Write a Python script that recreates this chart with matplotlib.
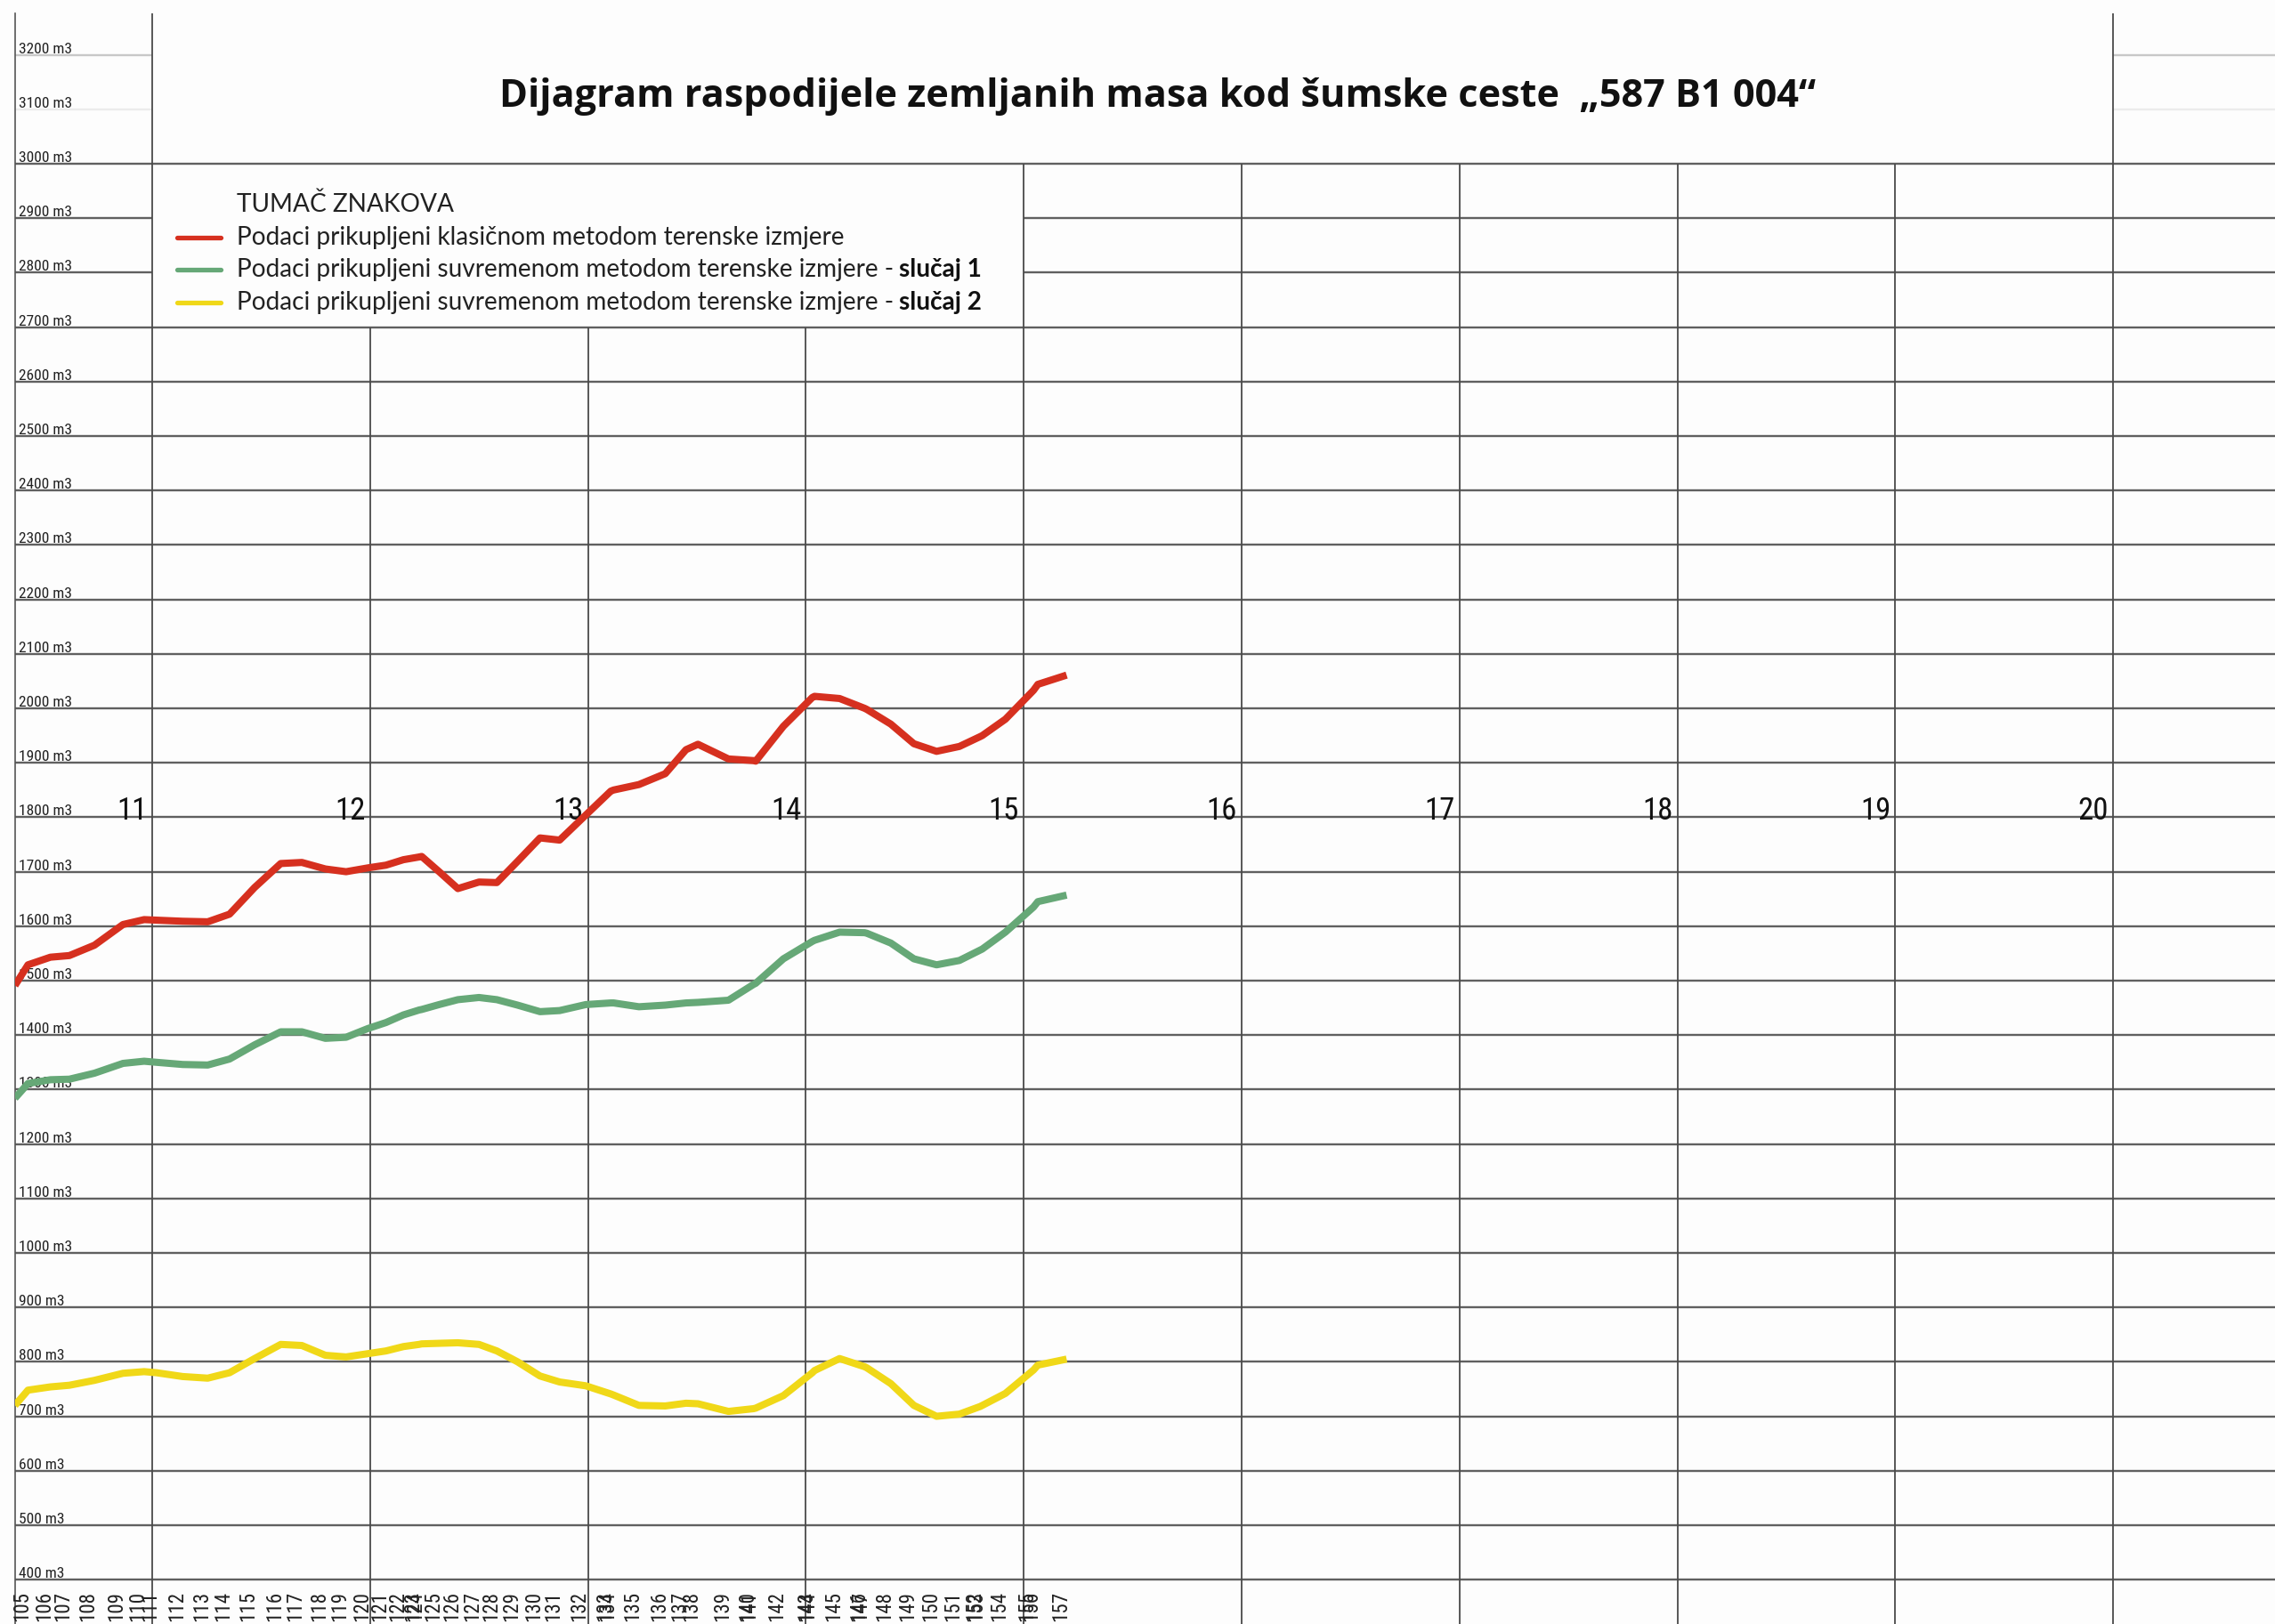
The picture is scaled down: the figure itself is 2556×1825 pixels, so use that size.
import matplotlib.pyplot as plt
from matplotlib import font_manager as fm
from matplotlib.lines import Line2D
from matplotlib.transforms import blended_transform_factory

# poprečni profili (oznake) i njihova stacionaža u km
profili = ["", "105", "106", "107", "108", "109", "110", "111", "112", "113",
           "114", "115", "116", "117", "118", "119", "120", "121", "122", "123",
           "124", "125", "126", "127", "128", "129", "130", "131", "132", "133",
           "134", "135", "136", "137", "138", "139", "140", "141", "142", "143",
           "144", "145", "146", "147", "148", "149", "150", "151", "152", "153",
           "154", "155", "156", "157"]
stacionaza_km = [10.37, 10.43, 10.533, 10.62, 10.735, 10.866, 10.963, 11.02, 11.14, 11.255,
                 11.355, 11.47, 11.59, 11.687, 11.795, 11.89, 11.99, 12.073, 12.153, 12.225,
                 12.237, 12.317, 12.403, 12.5, 12.582, 12.677, 12.78, 12.87, 12.99, 13.105,
                 13.118, 13.234, 13.355, 13.45, 13.505, 13.645, 13.76, 13.77, 13.897, 14.03,
                 14.04, 14.155, 14.27, 14.28, 14.39, 14.496, 14.6, 14.705, 14.8, 14.81,
                 14.916, 15.045, 15.065, 15.197]

# kumulativne mase (m3)
klasicna = [1491, 1529, 1543, 1546, 1565, 1603, 1612, 1611, 1609, 1608,
            1622, 1671, 1715, 1717, 1705, 1700, 1707, 1712, 1722, 1727,
            1728, 1700, 1669, 1681, 1680, 1719, 1762, 1758, 1804, 1848,
            1850, 1860, 1880, 1924, 1934, 1907, 1904, 1903, 1967, 2020,
            2022, 2018, 2000, 1998, 1971, 1935, 1921, 1930, 1948, 1950,
            1980, 2033, 2044, 2061]
suvremena_1 = [1284, 1311, 1318, 1319, 1330, 1348, 1352, 1350, 1346, 1345,
               1356, 1382, 1406, 1406, 1394, 1396, 1412, 1423, 1437, 1446,
               1447, 1456, 1465, 1469, 1465, 1455, 1443, 1445, 1456, 1459,
               1459, 1452, 1455, 1459, 1460, 1464, 1493, 1495, 1540, 1572,
               1574, 1589, 1588, 1587, 1569, 1540, 1529, 1537, 1556, 1558,
               1589, 1635, 1645, 1657]
suvremena_2 = [720, 748, 754, 757, 766, 779, 782, 780, 773, 770,
               780, 806, 832, 830, 812, 809, 815, 820, 828, 832,
               833, 834, 835, 832, 820, 800, 774, 763, 756, 741,
               739, 720, 719, 724, 723, 709, 714, 715, 738, 780,
               784, 806, 791, 789, 760, 720, 700, 704, 718, 720,
               742, 785, 794, 805]

km_oznake = [11, 12, 13, 14, 15, 16, 17, 18, 19, 20]
razine_m3 = list(range(400, 3300, 100))

naslov = "Dijagram raspodijele zemljanih masa kod šumske ceste  „587 B1 004“"
legenda_naslov = "TUMAČ ZNAKOVA"
legenda_tekst = ["Podaci prikupljeni klasičnom metodom terenske izmjere",
                 "Podaci prikupljeni suvremenom metodom terenske izmjere -",
                 "Podaci prikupljeni suvremenom metodom terenske izmjere -"]
legenda_bold = ["", "slučaj 1", "slučaj 2"]

CRVENA = "#d6301f"
ZELENA = "#66a877"
ZUTA = "#f0d818"
MREZA = "#606060"

plt.rcParams["font.family"] = ["Liberation Sans", "DejaVu Sans"]

# uski font za oznake (ako postoji), inače obični Liberation Sans manje veličine
uski = None
for kljuc in ["liberationsansnarrow-regular", "arialn.", "arial narrow",
              "notosans-condensed.", "notosans-condensedregular",
              "robotocondensed-regular", "dejavusanscondensed."]:
    for f in fm.fontManager.ttflist:
        if kljuc in f.fname.lower().replace("_", "-").split("/")[-1] and uski is None:
            uski = f.fname
if uski:
    fp = fm.FontProperties(fname=uski)
    faktor = 1.0
else:
    fp = fm.FontProperties(family="Liberation Sans")
    faktor = 0.82

W, H = 2556, 1825


def fx(px):
    return px / W


def fy(py):
    return 1 - py / H


fig = plt.figure(figsize=(W / 100, H / 100), dpi=100, facecolor="#fdfdfd")
ax = fig.add_axes([fx(17), 0, 1 - fx(17), fy(15)])
ax.set_facecolor("#fdfdfd")
ax.set_xlim(10.371, 20.743)
ax.set_ylim(318.6, 3276.1)
ax.set_xticks([])
ax.set_yticks([])
for s in ["top", "right", "bottom"]:
    ax.spines[s].set_visible(False)
ax.spines["left"].set_color("#555555")
ax.spines["left"].set_linewidth(1.2)

x0, x1 = ax.get_xlim()
y0, y1 = ax.get_ylim()

# vodoravne linije mreže (prekinute ispod naslova i legende)
for lvl in razine_m3:
    col = MREZA
    if lvl in (3100, 3200):
        segs = [(x0, 11), (20, x1)]
        col = "#c8c8c8" if lvl == 3200 else "#ececec"
    elif lvl in (2800, 2900):
        segs = [(x0, 11), (15, x1)]
    else:
        segs = [(x0, x1)]
    for a, b in segs:
        ax.hlines(lvl, a, b, color=col, lw=1.7, zorder=1)

# okomite linije na kilometrima
for km in km_oznake:
    if km in (11, 20):
        top = y1
    elif km < 15:
        top = 2700
    else:
        top = 3000
    ax.vlines(km, y0, top, color="#4a4a4a", lw=1.3, zorder=1)

# oznake razina
lab_tr = blended_transform_factory(ax.transAxes, ax.transData)
for lvl in razine_m3:
    ax.annotate(f"{lvl} m3", xy=(0, lvl), xycoords=lab_tr, xytext=(4, 2),
                textcoords="offset pixels", ha="left", va="baseline",
                fontproperties=fp, fontsize=12.5 * faktor, color="#222222", zorder=2)

# oznake kilometara
for km in km_oznake:
    ax.annotate(str(km), xy=(km, 1800), xytext=(-5, -3), textcoords="offset pixels",
                ha="right", va="baseline", fontproperties=fp, fontsize=25 * faktor,
                color="#111111", zorder=2)

# oznake profila
for km, lab in zip(stacionaza_km, profili):
    if lab:
        ax.annotate(lab, xy=(km, 400), xytext=(-7, -13), textcoords="offset pixels",
                    rotation=90, ha="center", va="top", fontproperties=fp,
                    fontsize=16.5 * faktor, color="#222222", annotation_clip=False)

# linije masa
for vals, col in [(klasicna, CRVENA), (suvremena_1, ZELENA), (suvremena_2, ZUTA)]:
    ax.plot(stacionaza_km, vals, color=col, lw=5.8, zorder=5,
            solid_joinstyle="round", solid_capstyle="butt")

# naslov
t_naslov = fig.text(fx(1301), fy(109), naslov, ha="center", va="center",
                    fontfamily="Open Sans", fontweight="bold", fontsize=30, color="#111111")

# legenda
leg_y = [267, 303, 340]
t_leg_naslov = fig.text(fx(266), fy(230), legenda_naslov, ha="left", va="center",
                        fontfamily="Lato", fontsize=19, color="#222222")
leg_texts = [t_leg_naslov]
for yy, txt, bold, col in zip(leg_y, legenda_tekst, legenda_bold, [CRVENA, ZELENA, ZUTA]):
    fig.add_artist(Line2D([fx(199), fx(248)], [fy(yy), fy(yy)], transform=fig.transFigure,
                          color=col, lw=3.8, solid_capstyle="round"))
    t = fig.text(fx(266), fy(yy), txt, ha="left", va="center",
                 fontfamily="Lato", fontsize=19, color="#222222")
    leg_texts.append(t)
    if bold:
        b = ax.annotate(bold, xy=(1, 0), xycoords=t, xytext=(6, 0), textcoords="offset pixels",
                        ha="left", va="bottom", fontfamily="Lato", fontweight="bold",
                        fontsize=19, color="#111111")
        leg_texts.append(b)

# prilagodba veličine fonta širini iz originala
fig.canvas.draw()
r = fig.canvas.get_renderer()
w = t_naslov.get_window_extent(r).width
t_naslov.set_fontsize(30 * 1478 / w)
w = leg_texts[1].get_window_extent(r).width
for t in leg_texts:
    t.set_fontsize(19 * 685 / w)

fig.savefig("out.png", dpi=100, facecolor=fig.get_facecolor())
